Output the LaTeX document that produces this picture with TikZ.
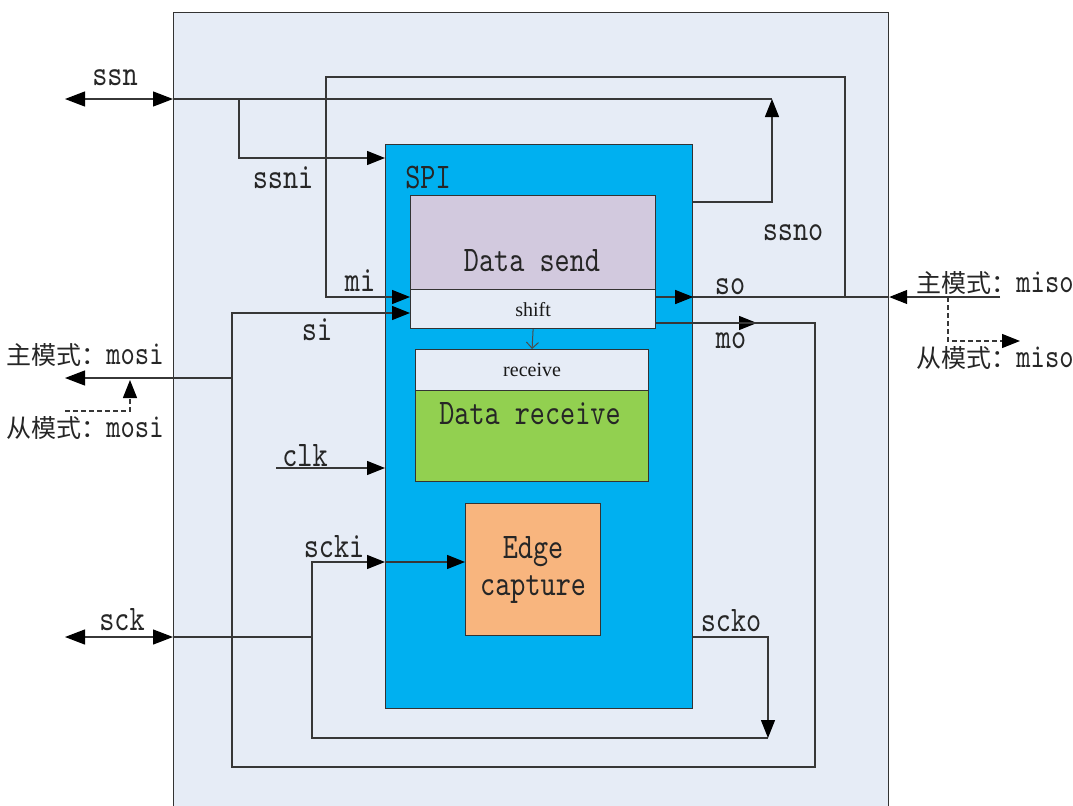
\documentclass[tikz,border=0pt]{standalone}
\usepackage{fontspec}
\newfontfamily\cjkfont{Noto Sans CJK SC}
\newfontfamily\sigfont[FakeStretch=0.8]{lmmono10-regular.otf}
\newfontfamily\tagfont{Liberation Serif}
\usetikzlibrary{arrows.meta,positioning,calc}

\definecolor{outerfill}{RGB}{230,236,246}
\definecolor{spiblue}{RGB}{0,176,240}
\definecolor{sendfill}{RGB}{210,201,222}
\definecolor{recvfill}{RGB}{146,208,80}
\definecolor{edgefill}{RGB}{248,181,126}
\definecolor{linegray}{RGB}{55,55,55}

\newcommand{\modelab}[2]{{\cjkfont\fontsize{12.5}{14}\selectfont #1}{\sigfont\fontsize{17}{19}\selectfont #2}}

\begin{document}
\begin{tikzpicture}[
  x=0.5pt, y=-0.5pt,
  wire/.style={draw=linegray, line width=0.6pt},
  sig/.style={wire, -{Triangle[length=9pt,width=7pt,color=black]}},
  pad/.style={wire, {Triangle[length=10pt,width=7.5pt,color=black]}-{Triangle[length=10pt,width=7.5pt,color=black]}},
  padout/.style={wire, -{Triangle[length=10pt,width=7.5pt,color=black]}},
  dashsig/.style={sig, dash pattern=on 2.5pt off 1.5pt},
  block/.style={draw=black!80, line width=0.6pt, anchor=north west, inner sep=0pt},
  lab/.style={font=\sigfont\fontsize{18}{18.5}\selectfont, text=black!85, inner sep=1pt, align=center},
  tag/.style={font=\tagfont\fontsize{10}{12}\selectfont, text=black!90}
]
\useasboundingbox (0,0) rectangle (1073,805);

% ---------------------------------------------------------------------------
% Blocks
% ---------------------------------------------------------------------------
\node[block, fill=outerfill, minimum width=357.5pt, minimum height=400pt] (outer) at (173,12) {};
\node[block, fill=spiblue, minimum width=153.5pt, minimum height=282pt] (spi) at (385,144) {};
\node[block, fill=sendfill, minimum width=122.5pt, minimum height=47pt] (send) at (410,195) {};
\node[block, fill=outerfill, minimum width=122.5pt, minimum height=19.5pt, tag] (shift) at (410,289) {shift};
\node[block, fill=outerfill, minimum width=116.5pt, minimum height=20.5pt, tag] (recv) at (415,349) {receive};
\node[block, fill=recvfill, minimum width=116.5pt, minimum height=45.5pt] (datarecv) at (415,390) {};
\node[block, fill=edgefill, minimum width=67.5pt, minimum height=66pt, lab] (edge) at (465,503) {Edge\\capture};

\node[lab] (spitxt) at (428,177) {SPI};
\node[lab] (sendtxt) at (532,261) {Data send};
\node[lab] (recvtxt) at (530,414) {Data receive};

\draw[draw=black!70, line width=0.5pt, -{Straight Barb[length=3pt,width=6pt]}] (shift.south) -- (recv.north);

% ---------------------------------------------------------------------------
% ssn
% ---------------------------------------------------------------------------
\coordinate (ssnpad) at (65,99);
\coordinate (ssnturn) at (772,99);
\coordinate (ssnitap) at (239,99);
\draw[pad] (ssnpad) -- (outer.west |- ssnpad);
\draw[wire] (outer.west |- ssnpad) -- (ssnturn);
\draw[sig] (ssnitap) |- (spi.west |- 0,158);
\draw[sig] (spi.east |- 0,202) -| (ssnturn);

% ---------------------------------------------------------------------------
% miso / mi / so
% ---------------------------------------------------------------------------
\coordinate (misopad) at (1000,297);
\coordinate (mitap) at (845,297);
\coordinate (mitop) at (326,77);
\coordinate (misodash) at (948,297);
\coordinate (misoslave) at (1020,341);
\draw[sig] (misopad) -- (outer.east |- misopad);
\draw[wire] (outer.east |- misopad) -- (spi.east |- misopad);
\draw[sig] (shift.east |- misopad) -- (spi.east |- misopad);
\draw[sig] (mitap) |- (mitop) |- (shift.west |- misopad);
\draw[dashsig] (misodash) |- (misoslave);

% ---------------------------------------------------------------------------
% mosi / si / mo
% ---------------------------------------------------------------------------
\coordinate (mosipad) at (65,378);
\coordinate (sibus) at (232,378);
\coordinate (mosidash) at (65,411);
\coordinate (mosislave) at (130,380);
\coordinate (moarrow) at (757,323);
\coordinate (moturn) at (815,767);
\draw[padout] (sibus) -- (mosipad);
\draw[dashsig] (mosidash) -| (mosislave);
\draw[sig] (shift.east |- moarrow) -- (moarrow);
\draw[sig] (shift.east |- moarrow) -| (moturn) -| (sibus) |- (shift.west |- 0,313);

% ---------------------------------------------------------------------------
% clk
% ---------------------------------------------------------------------------
\coordinate (clkin) at (276,468);
\draw[sig] (clkin) -- (spi.west |- clkin);

% ---------------------------------------------------------------------------
% sck / scki / scko
% ---------------------------------------------------------------------------
\coordinate (sckpad) at (65,637);
\coordinate (sckbus) at (312,637);
\coordinate (sckturn) at (768,738);
\draw[pad] (sckpad) -- (outer.west |- sckpad);
\draw[wire] (outer.west |- sckpad) -- (sckbus);
\draw[sig] (sckturn) -| (sckbus) |- (spi.west |- 0,562);
\draw[sig] (spi.west |- 0,562) -- (edge.west |- 0,562);
\draw[sig] (spi.east |- sckpad) -| (sckturn);

% ---------------------------------------------------------------------------
% Signal labels
% ---------------------------------------------------------------------------
\node[lab] (ssnlab) at (115,78) {ssn};
\node[lab] (ssnilab) at (283,178) {ssni};
\node[lab] (ssnolab) at (793,233) {ssno};
\node[lab] (milab) at (360,281) {mi};
\node[lab] (solab) at (730,287) {so};
\node[lab] (silab) at (317,330) {si};
\node[lab] (molab) at (731,341) {mo};
\node[lab] (clklab) at (305,456) {clk};
\node[lab] (sckilab) at (334,547) {scki};
\node[lab] (scklab) at (122,620) {sck};
\node[lab] (sckolab) at (731,621) {scko};
\node[lab] (misom) at (995,283) {\modelab{主模式：}{miso}};
\node[lab] (misos) at (995,358) {\modelab{从模式：}{miso}};
\node[lab] (mosim) at (85,355) {\modelab{主模式：}{mosi}};
\node[lab] (mosis) at (85,428) {\modelab{从模式：}{mosi}};

\end{tikzpicture}
\end{document}
